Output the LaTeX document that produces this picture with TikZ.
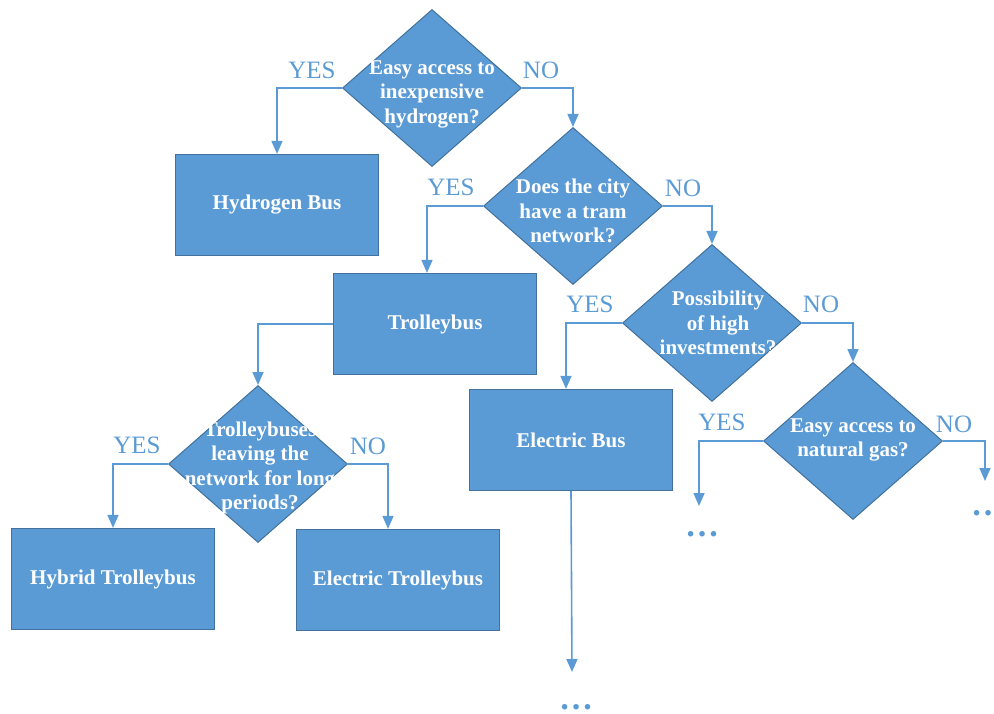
\documentclass[tikz,border=0pt]{standalone}
\usepackage{fontspec}
\setmainfont{Liberation Serif}
\usetikzlibrary{shapes.geometric,arrows.meta}
\definecolor{boxblue}{HTML}{5B9BD5}
\definecolor{edgeblue}{HTML}{41719C}
\tikzset{
    decision/.style={diamond,fill=boxblue,draw=edgeblue,line width=1pt,minimum width=179pt,minimum height=157pt,inner sep=0pt},
    qtext/.style={text=white,font=\fontsize{21}{24.5}\selectfont\bfseries,align=center,inner sep=0pt},
    block/.style={rectangle,fill=boxblue,draw=edgeblue,line width=1.2pt,minimum width=203pt,minimum height=101pt,text=white,font=\fontsize{21}{24}\selectfont\bfseries},
    flow/.style={draw=boxblue,line width=1.6pt,-{Triangle[length=13pt,width=11pt]}},
    answer/.style={text=boxblue,font=\fontsize{25}{25}\selectfont,inner sep=0pt},
    more/.style={text=boxblue,font=\fontsize{34}{34}\selectfont\bfseries,inner sep=0pt}
}
\begin{document}
\begin{tikzpicture}[x=1pt,y=-1pt]
                \useasboundingbox (0,0) rectangle (994,714);
                \node[decision] (hydro) at (432,88) {}; \node[qtext] (hydrot) at (432,94) {Easy access to\\inexpensive\\hydrogen?};
                \node[decision] (tram) at (573,206) {}; \node[qtext] (tramt) at (573,211) {Does the city\\have a tram\\network?};
                \node[decision] (invest) at (712,323) {}; \node[qtext] (investt) at (718,323) {Possibility\\of high\\investments?};
                \node[decision] (gas) at (853,441) {}; \node[qtext] (gast) at (853,440) {Easy access to\\natural gas?};
                \node[decision] (leave) at (258,464) {}; \node[qtext] (leavet) at (260,468) {Trolleybuses\\leaving the\\network for long\\periods?};

                \node[block] (hbus) at (277,205) {Hydrogen Bus}; \node[block] (tbus) at (435,324) {Trolleybus};
                \node[block] (ebus) at (571,440) {Electric Bus};
                \node[block] (hybrid) at (113,579) {Hybrid Trolleybus}; \node[block] (etbus) at (398,580) {Electric Trolleybus};

                \coordinate (gasyes) at (699,506); \coordinate (gasno) at (985,481); \coordinate (ebusend) at (572,672);
                \node[more] (dots1) at (702,534) {…}; \node[more] (dots2) at (988,513) {…}; \node[more] (dots3) at (576,707) {…};

                \draw[flow] (hydro.west) -| (hbus.north); \draw[flow] (hydro.east) -| (tram.north);
                \draw[flow] (tram.west) -| ([xshift=-8pt]tbus.north); \draw[flow] (tram.east) -| (invest.north);
                \draw[flow] (invest.west) -| ([xshift=-5pt]ebus.north); \draw[flow] (invest.east) -| (gas.north);
                \draw[flow] (gas.west) -| (gasyes); \draw[flow] (gas.east) -| (gasno);
                \draw[flow] (tbus.west) -| (leave.north); \draw[flow] (ebus.south) -- (ebusend);
                \draw[flow] (leave.west) -| (hybrid.north); \draw[flow] (leave.east) -| ([xshift=-10pt]etbus.north);

                \node[answer] (yes1) at (312,70) {YES}; \node[answer] (no1) at (541,70) {NO};
                \node[answer] (yes2) at (451,187) {YES}; \node[answer] (no2) at (683,188) {NO};
                \node[answer] (yes3) at (590,304) {YES}; \node[answer] (no3) at (821,304) {NO};
                \node[answer] (yes4) at (722,422) {YES}; \node[answer] (no4) at (954,424) {NO};
                \node[answer] (yes5) at (137,445) {YES}; \node[answer] (no5) at (368,446) {NO};
            \end{tikzpicture}
\end{document}
